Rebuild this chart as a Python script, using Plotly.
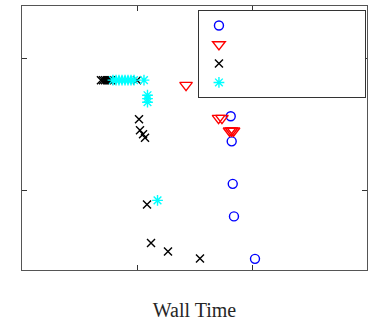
import plotly.graph_objects as go

# Wall time (x) versus error (y) for four solver configurations
circle_x = [65.3, 66.6, 68.0, 69.7, 106.2]
circle_y = [3.67, 2.37, 1.129, 0.640, 0.305]

tri_x = [26.7, 51.2, 54.8, 63.8, 66.4, 69.1]
tri_y = [6.32, 3.55, 3.55, 2.85, 2.85, 2.85]

cross_x = [4.86, 5.06, 5.27, 5.48, 5.71, 5.94, 10.0, 10.41, 10.62, 11.28, 11.74,
           12.22, 13.24, 18.6, 35.3]
cross_y = [6.89, 6.89, 6.89, 6.89, 6.89, 6.89, 6.89, 3.48, 2.88, 2.68, 2.52,
           0.789, 0.403, 0.347, 0.307]

star_x = [6.18, 6.57, 6.97, 7.41, 7.87, 8.35, 8.87, 9.42, 11.5, 12.34, 12.34,
          12.34, 15.08]
star_y = [6.89, 6.89, 6.89, 6.89, 6.89, 6.89, 6.89, 6.89, 6.89, 5.30, 4.99,
          4.69, 0.846]

x_ticks = [10, 100]
y_ticks = [1, 10]

# legend entries carry no visible label; blank padding sets the box width
blank_label = "\u00a0" * 42

fig = go.Figure()
series = [
    (circle_x, circle_y, "circle-open", "#0000ff", 9),
    (tri_x, tri_y, "triangle-down-open", "#ff0000", 11),
    (cross_x, cross_y, "x-thin-open", "#000000", 8),
    (star_x, star_y, "asterisk-open", "#00ffff", 9),
]
for xs, ys, sym, col, sz in series:
    fig.add_trace(go.Scatter(
        x=xs, y=ys, mode="markers", name=blank_label,
        marker=dict(symbol=sym, size=sz, color=col,
                    line=dict(color=col, width=1.4)),
    ))

axis_common = dict(
    showgrid=False, zeroline=False, showticklabels=False,
    showline=True, linecolor="#555555", linewidth=1,
    mirror="ticks", ticks="inside", ticklen=5, tickcolor="#333333",
    tickwidth=1,
)
fig.update_xaxes(type="log", range=[0, 3], tickvals=x_ticks,
                 title=dict(text="Wall Time", standoff=35,
                            font=dict(family="Liberation Serif", size=20,
                                      color="#262626")),
                 **axis_common)
fig.update_yaxes(type="log", range=[-0.6, 1.4], tickvals=y_ticks,
                 **axis_common)

fig.update_layout(
    width=368, height=321,
    margin=dict(l=22, r=1, t=6, b=51),
    paper_bgcolor="white", plot_bgcolor="white",
    showlegend=True,
    legend=dict(
        x=0.51, y=0.985, xanchor="left", yanchor="top",
        bgcolor="white", bordercolor="#333333", borderwidth=1,
        font=dict(family="Open Sans", size=11),
        itemsizing="trace",
    ),
)

fig.write_html("out.html")
